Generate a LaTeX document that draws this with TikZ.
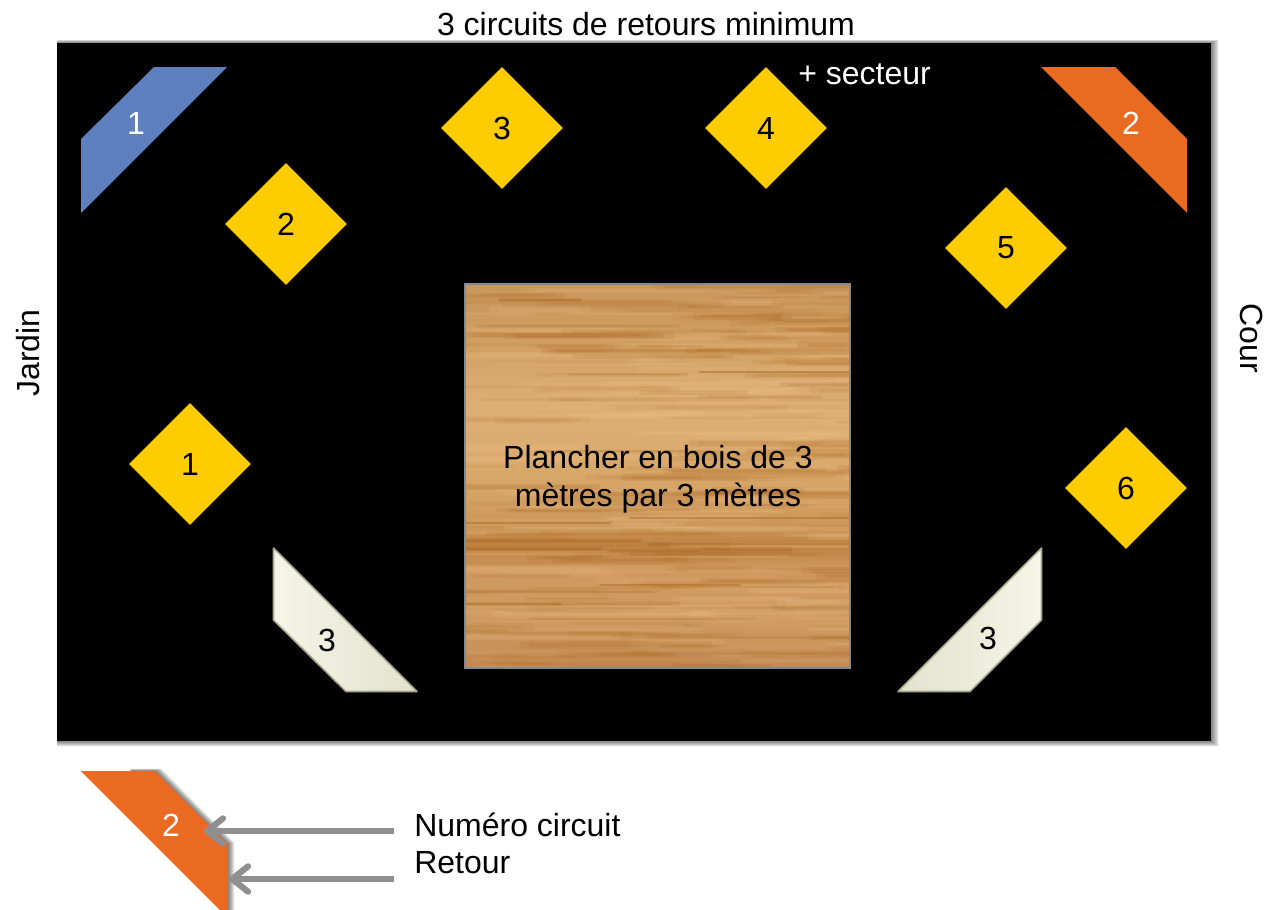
\documentclass[tikz,border=0pt]{standalone}
\usepackage{fontspec}
\setmainfont{Liberation Sans}
\usetikzlibrary{shapes.geometric,arrows.meta}
\definecolor{flooryellow}{HTML}{FFCC00}
\definecolor{circblue}{HTML}{5E80BF}
\definecolor{circorange}{HTML}{EA6A22}
\definecolor{beigeline}{HTML}{A9A98F}
\definecolor{beigeA}{HTML}{E3E2CE}
\definecolor{beigeB}{HTML}{F5F5E8}
\definecolor{arrowgrey}{HTML}{8F8F8F}
\definecolor{woodedge}{HTML}{808A94}
\definecolor{wooddark}{HTML}{A9661F}
\definecolor{woodlight}{HTML}{F0C48C}
\pgfdeclareverticalshading{woodbase}{100bp}{%
 rgb(0bp)=(.76,.54,.32);
 rgb(25bp)=(.76,.54,.32);
 rgb(31bp)=(.81,.61,.38);
 rgb(38bp)=(.81,.60,.37);
 rgb(41bp)=(.74,.50,.25);
 rgb(43bp)=(.79,.58,.34);
 rgb(47bp)=(.83,.63,.39);
 rgb(51bp)=(.85,.66,.42);
 rgb(59bp)=(.87,.69,.46);
 rgb(67.5bp)=(.82,.62,.38);
 rgb(75bp)=(.79,.59,.36);
 rgb(100bp)=(.79,.59,.36)}
\tikzset{
 lbl/.style={font=\fontsize{24}{28.5}\selectfont,inner sep=0pt,text=black},
 lblw/.style={lbl,text=white},
 spot/.style={diamond,fill=flooryellow,minimum width=91.5pt,minimum height=91.5pt,inner sep=0pt,aspect=1,font=\fontsize{24}{28.5}\selectfont},
 beigeshape/.style={draw=beigeline,line width=1.2pt,line join=round},
 legendarrow/.style={draw=arrowgrey,line width=4.6pt,-{Straight Barb[length=12pt,width=19pt,line cap=round,line join=round,round]}}
}
\begin{document}
\begin{tikzpicture}[x=0.75pt,y=-0.75pt]
\useasboundingbox (0,0) rectangle (1278,910);
\clip (0,0) rectangle (1278,910);
\fill[white] (0,0) rectangle (1278,910);
% stage shadow
\foreach \i in {1,...,14}{
 \fill[black,opacity=0.045] (57,{43-\i*0.25}) rectangle ({1211+\i*0.55},{741+\i*0.4});
}
\fill[black] (57,43) rectangle (1211,741);
% wood floor
\begin{scope}
 \clip (465,284) rectangle (850,668);
 \shade[shading=woodbase] (465,284) rectangle (850,668);
 \pgfmathsetseed{4242}
 \foreach \k in {1,...,300}{
  \pgfmathsetmacro{\yy}{284+rnd*384}
  \pgfmathsetmacro{\xa}{430+rnd*410}
  \pgfmathsetmacro{\ln}{60+rnd*190}
  \pgfmathsetmacro{\th}{1.0+rnd*2.0}
  \pgfmathsetmacro{\op}{0.05+rnd*0.11}
  \pgfmathsetmacro{\cc}{rnd}
  \pgfmathparse{\cc<0.55?"wooddark":"woodlight"}
  \edef\colr{\pgfmathresult}
  \draw[draw=\colr,opacity=\op,line width=2*\th pt,line cap=round] (\xa,\yy) -- (\xa+\ln,\yy);
  \draw[draw=\colr,opacity=\op,line width=\th pt,line cap=round] (\xa+8,\yy) -- (\xa+\ln-8,\yy);
 }
 \foreach \xa/\xb/\yy/\w in {465/600/549/1.8,610/700/551/1.4,705/790/550/2.2,465/640/541/1.2,650/850/544/1.2,465/560/604/1.2,600/740/585/.9,465/610/523/.9,630/850/518/.9,500/580/300/1.2,700/850/372/.9}{
  \draw[draw=wooddark,opacity=0.22,line width=2*\w pt,line cap=round] (\xa,\yy) -- (\xb,\yy);
  \draw[draw=wooddark,opacity=0.3,line width=\w pt,line cap=round] (\xa,\yy) -- (\xb,\yy);
 }
\end{scope}
\draw[draw=woodedge,line width=1.6pt] (465,284) rectangle (850,668);
\node[lbl,align=center] (floor) at (658,479) {Plancher en bois de 3\\mètres par 3 mètres};
% spots
\node[spot] (s1) at (190,464) {1};
\node[spot] (s2) at (286,224) {2};
\node[spot] (s3) at (502,128) {3};
\node[spot] (s4) at (766,128) {4};
\node[spot] (s5) at (1006,248) {5};
\node[spot] (s6) at (1126,488) {6};
% returns
\fill[circblue] (81,139) -- (154,67) -- (227,67) -- (81,213) -- cycle;
\node[lblw] (r1) at (136,123) {1};
\fill[circorange] (1041,67) -- (1115,67) -- (1187,139) -- (1187,213) -- cycle;
\node[lblw] (r2) at (1131,123) {2};
\path[beigeshape,left color=beigeB,right color=beigeA] (273.5,548) -- (417,691.5) -- (346,691.5) -- (273.5,620) -- cycle;
\node[lbl] (r3a) at (327,640) {3};
\path[beigeshape,left color=beigeA,right color=beigeB] (1041.5,548) -- (1041.5,620) -- (970,691.5) -- (898,691.5) -- cycle;
\node[lbl] (r3b) at (988,638) {3};
% legend
\foreach \i in {1,...,12}{
 \fill[black,opacity=0.05] (130,{771-\i*0.2}) -- ({155+\i*0.55},{771-\i*0.2}) -- ({228+\i*0.55},{844-\i*0.1}) -- ({228+\i*0.55},925) -- (228,925) -- (228,880) -- cycle;
}
\fill[circorange] (81,771) -- (155,771) -- (228,844) -- (228,918) -- cycle;
\node[lblw] (legnum) at (171,825) {2};
% texts
\node[lbl] (title) at (646,24) {3 circuits de retours minimum};
\node[lblw,anchor=west] (sector) at (798,74) {+ secteur};
\node[lbl,rotate=90] (jardin) at (28,353) {Jardin};
\node[lbl,rotate=270] (cour) at (1252,338) {Cour};
\node[lbl,anchor=west] (num) at (414,825) {Numéro circuit};
\node[lbl,anchor=west] (ret) at (414,863) {Retour};
% connectors
\coordinate (numstart) at (394,831);
\coordinate (numtip) at (204,831);
\coordinate (retstart) at (394,879);
\coordinate (rettip) at (229,879);
\draw[legendarrow] (numstart) -- (numtip);
\draw[legendarrow] (retstart) -- (rettip);
\end{tikzpicture}
\end{document}
